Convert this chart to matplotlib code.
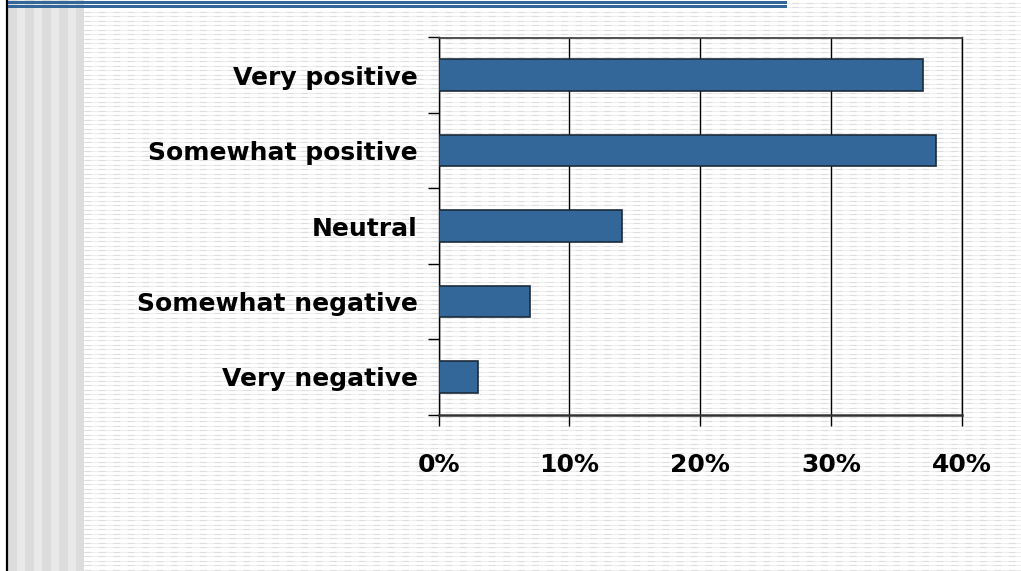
import numpy as np
import matplotlib
matplotlib.use("Agg")
import matplotlib.pyplot as plt
from matplotlib.patches import Rectangle

# данные
categories = ["Very positive", "Somewhat positive", "Neutral", "Somewhat negative", "Very negative"]
values = [37, 38, 14, 7, 3]
x_ticks = [0, 10, 20, 30, 40]
x_tick_labels = ["0%", "10%", "20%", "30%", "40%"]

W, H = 1021, 571
fig = plt.figure(figsize=(W / 100, H / 100), dpi=100)
fig.patch.set_facecolor("white")

# фон слайда в пиксельных координатах
bg = fig.add_axes([0, 0, 1, 1])
bg.set_xlim(0, W)
bg.set_ylim(H, 0)
bg.axis("off")

# горизонтальные линии фона
for y in np.arange(2.5, H, 4.5):
    bg.plot([84, W], [y, y], color="#eeeeee", lw=0.8, solid_capstyle="butt", zorder=1)
    bg.plot([84, W], [y, y], color="#dedede", lw=0.8, dashes=(6, 7), zorder=1)

# серые вертикальные полосы слева
edges = [8, 16.7, 25, 33.7, 42, 50.7, 59, 67.7, 76, 84]
for i in range(len(edges) - 1):
    c = "#dcdcdc" if i % 2 == 0 else "#e9e9e9"
    bg.add_patch(Rectangle((edges[i], 0), edges[i + 1] - edges[i], H, color=c, lw=0, zorder=2))

# чёрная линия слева и синяя полоса сверху
bg.plot([7, 7], [0, H], color="black", lw=1.6, zorder=3)
bg.add_patch(Rectangle((8, 0.8), 779, 3.0, color="#336699", lw=0, zorder=3))
bg.add_patch(Rectangle((8, 4.8), 779, 3.0, color="#336699", lw=0, zorder=3))

# основной график
left, right = 438.5, 962
top, bottom = 37.5, 414.5
ax = fig.add_axes([left / W, 1 - bottom / H, (right - left) / W, (bottom - top) / H])
ax.patch.set_alpha(0)

pos = np.arange(len(categories))
ax.barh(pos, values, height=0.42, color="#336699", edgecolor="#1c2b3a", lw=1.2, zorder=3)
ax.set_ylim(len(categories) - 0.5, -0.5)
ax.set_xlim(0, 40)

ax.set_xticks(x_ticks)
ax.set_xticklabels(x_tick_labels)
ax.set_yticks(pos)
ax.set_yticklabels(categories)
ax.set_yticks(np.arange(-0.5, len(categories)), minor=True)

ax.grid(axis="x", color="black", lw=1.0, zorder=1)
ax.tick_params(axis="y", which="major", length=0, pad=15)
ax.tick_params(axis="y", which="minor", length=8, width=1, color="black", direction="out")
ax.tick_params(axis="x", length=8, width=1, color="black", pad=20)

for lbl in ax.get_yticklabels() + ax.get_xticklabels():
    lbl.set_fontsize(18)
    lbl.set_fontweight("bold")
    lbl.set_fontfamily("DejaVu Sans")

ax.spines["left"].set_color("black")
ax.spines["left"].set_linewidth(1.0)
ax.spines["bottom"].set_color("#333333")
ax.spines["bottom"].set_linewidth(1.8)
ax.spines["top"].set_color("#444444")
ax.spines["top"].set_linewidth(1.3)
ax.spines["right"].set_color("black")
ax.spines["right"].set_linewidth(1.0)

fig.savefig("out.png", dpi=100)
